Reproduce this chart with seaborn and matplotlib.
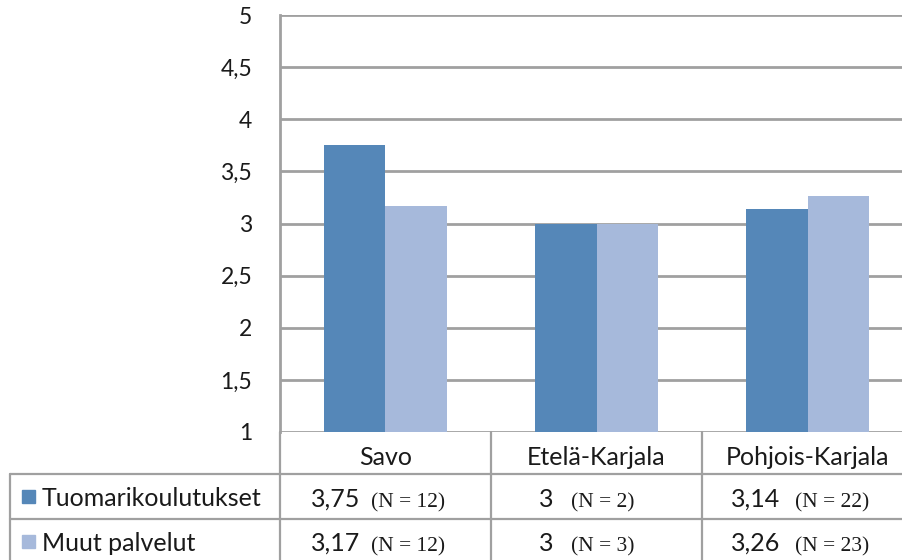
import matplotlib
matplotlib.use("Agg")
import matplotlib.pyplot as plt
import matplotlib.transforms as mtransforms
import seaborn as sns
import pandas as pd

categories = ["Savo", "Etelä-Karjala", "Pohjois-Karjala"]
series_names = ["Tuomarikoulutukset", "Muut palvelut"]
tuomari = [3.75, 3.00, 3.14]
muut = [3.17, 3.00, 3.26]
tuomari_labels = ["3,75", "3", "3,14"]
muut_labels = ["3,17", "3", "3,26"]
tuomari_n = ["(N = 12)", "(N = 2)", "(N = 22)"]
muut_n = ["(N = 12)", "(N = 3)", "(N = 23)"]
yticks = [1, 1.5, 2, 2.5, 3, 3.5, 4, 4.5, 5]
ytick_labels = ["1", "1,5", "2", "2,5", "3", "3,5", "4", "4,5", "5"]

colors = ["#5587B8", "#A6B9DB"]

df = pd.DataFrame({
    "region": categories * 2,
    "series": [series_names[0]] * 3 + [series_names[1]] * 3,
    "value": tuomari + muut,
})

sns.set_theme(style="white")
plt.rcParams["font.family"] = ["Lato", "DejaVu Sans"]

W, H = 903, 560
fig = plt.figure(figsize=(W / 100, H / 100), dpi=100)
left_px, right_px, top_px, bot_px = 280, 913, 15, 432
ax = fig.add_axes([left_px / W, 1 - bot_px / H, (right_px - left_px) / W, (bot_px - top_px) / H])

sns.barplot(data=df, x="region", y="value", hue="series", palette=colors,
            hue_order=series_names, order=categories, width=0.58, gap=0,
            saturation=1, edgecolor="none", linewidth=0, ax=ax, legend=False,
            zorder=3)

TXT = "#1A1A1A"
ax.set_ylim(1, 5)
ax.set_xlim(-0.5, 2.5)
ax.set_yticks(yticks)
ax.set_yticklabels(ytick_labels, fontsize=16.5, color=TXT)
ax.tick_params(axis="y", length=0, pad=20)
ax.set_xticks([])
ax.set_xlabel("")
ax.set_ylabel("")
ax.grid(axis="y", color="#A0A0A0", linewidth=2, zorder=0)
for s in ["top", "right", "bottom"]:
    ax.spines[s].set_visible(False)
ax.spines["left"].set_color("#A0A0A0")
ax.spines["left"].set_linewidth(2)

# Data table below the plot
line_kw = dict(color="#A0A0A0", linewidth=1.6, clip_on=False)
def fy(px):
    return 1 - px / H

ftrans = fig.transFigure
btrans = mtransforms.blended_transform_factory(ax.transData, ftrans)

x_bounds = [-0.5, 0.5, 1.5, 2.5]
for xb in x_bounds:
    ax.plot([xb, xb], [fy(432), fy(562)], transform=btrans, **line_kw)
ax.plot([10 / W, 10 / W], [fy(474), fy(562)], transform=ftrans, **line_kw)
ax.plot([10 / W, 1.1], [fy(474), fy(474)], transform=ftrans, **line_kw)
ax.plot([10 / W, 1.1], [fy(519), fy(519)], transform=ftrans, **line_kw)

for i, c in enumerate(categories):
    ax.text(i, fy(465), c, transform=btrans, ha="center", va="baseline",
            fontsize=18, color=TXT)

val_right = [-0.118, -0.204, -0.128]
n_left = [-0.071, -0.123, -0.057]
rows = [(tuomari_labels, tuomari_n, fy(507)), (muut_labels, muut_n, fy(551))]
for labels, ns, yy in rows:
    for i in range(3):
        ax.text(i + val_right[i], yy, labels[i], transform=btrans, ha="right",
                va="baseline", fontsize=18, color=TXT)
        ax.text(i + n_left[i], yy, ns[i], transform=btrans, ha="left",
                va="baseline", fontsize=15.5, color=TXT,
                family=["Liberation Serif"])

for k, (name, yy, sq) in enumerate(zip(series_names, [fy(506), fy(551)], [503, 548])):
    fig.patches.append(plt.Rectangle((22 / W, fy(sq)), 13 / W, 13 / H,
                                     transform=ftrans, color=colors[k]))
    fig.text(42 / W, yy, name, ha="left", va="baseline", fontsize=18, color=TXT)

fig.savefig("out.png", dpi=100)
